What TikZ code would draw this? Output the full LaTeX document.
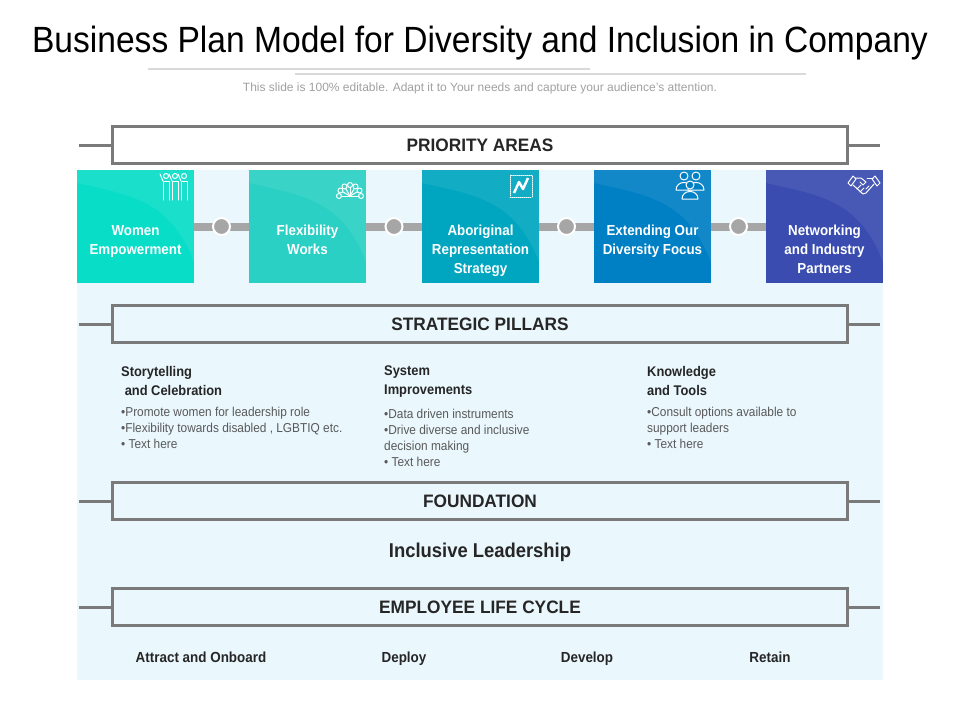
\documentclass[tikz,border=0pt]{standalone}
\usepackage{fontspec}
\setmainfont{Liberation Sans}
\newfontfamily\narfont[FakeStretch=0.92]{Liberation Sans}
\newfontfamily\hdrfont[FakeStretch=0.96]{Liberation Sans}
\usetikzlibrary{positioning, calc}
\definecolor{mybg}{RGB}{234, 247, 253}
\definecolor{myframe}{RGB}{122, 122, 122}
\definecolor{mybar}{RGB}{166, 166, 166}
\definecolor{mydark}{RGB}{38, 38, 38}
\definecolor{mytext}{RGB}{89, 89, 89}
\definecolor{mysub}{RGB}{160, 160, 160}
\definecolor{myrule}{RGB}{217, 217, 217}
\definecolor{cA}{RGB}{8, 221, 200}
\definecolor{cB}{RGB}{43, 208, 196}
\definecolor{cC}{RGB}{0, 166, 192}
\definecolor{cD}{RGB}{0, 128, 196}
\definecolor{cE}{RGB}{58, 76, 176}

\begin{document}
\begin{tikzpicture}[
    x = 1pt, y = -1pt,
    hdr/.style = {draw = myframe, line width = 3pt, minimum width = 735pt, minimum height = 37pt, inner sep = 0pt, text = mydark, font = \hdrfont\bfseries\fontsize{18}{20}\selectfont},
    side/.style = {draw = myframe, line width = 3pt},
    pa/.style = {minimum width = 117pt, minimum height = 113pt, inner sep = 0pt},
    palab/.style = {anchor = north, align = center, inner sep = 0pt, text = white, font = \narfont\bfseries\fontsize{14.5}{19}\selectfont},
    bar/.style = {draw = mybar, line width = 8pt},
    dot/.style = {circle, fill = mybar, draw = white, line width = 2pt, minimum size = 17pt, inner sep = 0pt},
    ico/.style = {draw = white, line width = 1pt, line join = round, line cap = round},
    phead/.style = {anchor = north west, align = left, inner sep = 0pt, text = mydark, font = \narfont\bfseries\fontsize{14}{19}\selectfont},
    pbul/.style = {anchor = north west, align = left, inner sep = 0pt, text = mytext, font = \narfont\fontsize{12.9}{16}\selectfont},
    lc/.style = {anchor = base, text = mydark, inner sep = 0pt, font = \narfont\bfseries\fontsize{14.6}{16}\selectfont}
]
\useasboundingbox (0,0) rectangle (960,720);

\node[anchor = base, font = \narfont\fontsize{36.5}{40}\selectfont] (title) at (480,52) {Business Plan Model for Diversity and Inclusion in Company};
\draw[myrule, line width = 2pt] (148,69) -- (590,69);
\draw[myrule, line width = 2pt] (295,74) -- (806,74);
\node[text = mysub, font = \fontsize{12}{14}\selectfont] (sub) at (480,88) {This slide is 100\% editable. Adapt it to Your needs and capture your audience’s attention.};

\fill[mybg] (77,170) rectangle (883,680);

% header bands
\node[hdr, fill = white] (pri) at (480,145) {PRIORITY AREAS};
\node[hdr, fill = mybg] (str) at (480,324) {STRATEGIC PILLARS};
\node[hdr, fill = mybg] (fnd) at (480,501) {FOUNDATION};
\node[hdr, fill = mybg] (elc) at (480,607) {EMPLOYEE LIFE CYCLE};
\foreach \h/\y in {pri/145, str/324, fnd/501, elc/607}{
  \coordinate (\h l) at (79,\y);
  \coordinate (\h r) at (880,\y);
  \draw[side] (\h l) -- (\h.west);
  \draw[side] (\h.east) -- (\h r);
}

% priority areas
\foreach \x/\c/\t [count = \i] in {135.5/cA/{Women\\Empowerment}, 307.5/cB/{Flexibility\\Works}, 480.5/cC/{Aboriginal\\Representation\\Strategy}, 652.5/cD/{Extending Our\\Diversity Focus}, 824.5/cE/{Networking\\and Industry\\Partners}}{
  \node[pa, fill = \c] (p\i) at (\x,226.5) {};
  \fill[white, opacity = 0.07] (\x-58.5,170) -- (\x-58.5,183) .. controls (\x-5,195) and (\x+35,200) .. (\x+58.5,262) -- (\x+58.5,170) -- cycle;
  \node[palab] (t\i) at (\x,225) {\t};
}
\foreach \i/\j in {1/2, 2/3, 3/4, 4/5}{
  \draw[bar] (p\i.east) -- node[dot] (d\i) {} (p\j.west);
}

% icons
\begin{scope}[shift = {(176,187)}]
\foreach \u in {-10,-1,8}{
  \draw[ico] (\u,-11) circle (2.5);
  \draw[ico] (\u-3,13) -- (\u-3,-6) -- (\u+3,-6) -- (\u+3,13);
  \draw[ico] (\u-3,-6) -- (\u-6,-13);
}
\end{scope}
\begin{scope}[shift = {(350,190)}]
\foreach \a in {0,30,...,180}{
  \draw[ico] (0,6) -- ($(0,6)+(-\a:9)$);
  \draw[ico] ($(0,6)+(-\a:11)$) circle (2.5);
}
\draw[ico] (-8,6) -- (8,6);
\end{scope}
\begin{scope}[shift = {(521,186)}]
\draw[ico, densely dotted, line width = 0.8pt] (-11,-11) rectangle (11,11);
\draw[white, line width = 2.5pt, line join = round] (-7,7) -- (-2,-4) -- (2,3) -- (7,-8);
\end{scope}
\begin{scope}[shift = {(690,186)}]
\foreach \u/\v in {-6/-11, 6/-11, 0/-2}{
  \draw[ico, fill = cD] (\u-8,\v+15) .. controls (\u-8,\v+5) and (\u+8,\v+5) .. (\u+8,\v+15) -- cycle;
  \draw[ico, fill = cD] (\u,\v+1) circle (4);
}
\end{scope}
\begin{scope}[shift = {(864,186)}]
\draw[ico] (-16,-3) -- (-11,-10) -- (-8,-7) -- (-13,0) -- cycle;
\draw[ico] (16,-3) -- (11,-10) -- (8,-7) -- (13,0) -- cycle;
\draw[ico] (-9,-8) -- (-3,-8) -- (2,-4) -- (-1,-1) -- (-4,-4);
\draw[ico] (9,-8) -- (3,-8);
\draw[ico] (10,-2) -- (2,7) -- (-1,8) -- (-11,-1);
\draw[ico] (-7,3) -- (-3,-1);
\draw[ico] (-4,6) -- (0,2);
\draw[ico] (5,0) -- (2,3);
\end{scope}

% strategic pillars
\node[phead] (h1) at (121,366) {Storytelling\\\ and Celebration};
\node[pbul] (b1) at ([yshift = -11pt]h1.south west) {•Promote women for leadership role\\•Flexibility towards disabled , LGBTIQ etc.\\• Text here};
\node[phead] (h2) at (384,366) {System\\Improvements};
\node[pbul] (b2) at ([yshift = -11pt]h2.south west) {•Data driven instruments\\•Drive diverse and inclusive\\decision making\\• Text here};
\node[phead] (h3) at (647,366) {Knowledge\\and Tools};
\node[pbul] (b3) at ([yshift = -11pt]h3.south west) {•Consult options available to\\support leaders\\• Text here};

% foundation
\node[text = mydark, font = \narfont\bfseries\fontsize{20}{22}\selectfont] (incl) at (480,552) {Inclusive Leadership};

% life cycle
\node[lc] (s1) at (201,662) {Attract and Onboard};
\node[lc] (s2) at (404,662) {Deploy};
\node[lc] (s3) at (587,662) {Develop};
\node[lc] (s4) at (770,662) {Retain};

\end{tikzpicture}
\end{document}
